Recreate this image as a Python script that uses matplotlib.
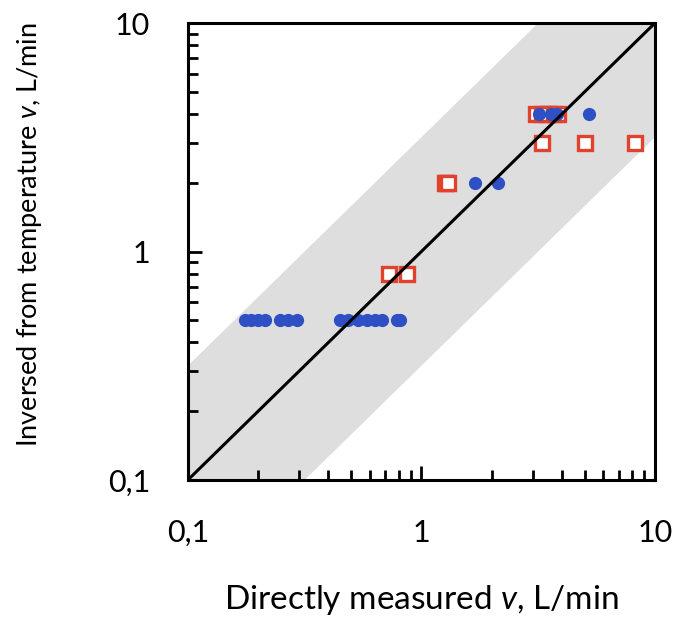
import numpy as np
import matplotlib.pyplot as plt
from matplotlib.ticker import FixedLocator, LogLocator, NullFormatter

plt.rcParams['font.family'] = ['Lato', 'DejaVu Sans']
plt.rcParams['mathtext.fontset'] = 'custom'
plt.rcParams['mathtext.it'] = 'Lato:italic'
plt.rcParams['mathtext.rm'] = 'Lato'

# measured vs. inversed flow rates, L/min
circ_x = [0.175, 0.187, 0.2, 0.214, 0.248, 0.269, 0.292,
          0.448, 0.486, 0.537, 0.583, 0.632, 0.676, 0.79, 0.81,
          1.69, 2.13,
          3.2, 3.6, 3.8, 5.2]
circ_y = [0.5] * 15 + [2.0] * 2 + [4.0] * 4

sq_x = [0.726, 0.864,
        1.26, 1.28, 1.30,
        3.1, 3.3, 3.5, 3.7, 3.85,
        3.27, 5.0, 8.2]
sq_y = [0.8] * 2 + [2.0] * 3 + [4.0] * 5 + [3.0] * 3

tick_vals = [0.1, 1, 10]
tick_text = ['0,1', '1', '10']

band = np.sqrt(10)
xs = np.logspace(-1, 1, 50)

fig = plt.figure(figsize=(6.78, 6.23), dpi=100)
ax = fig.add_axes([0.277, 0.2295, 0.689, 0.7335])

ax.fill_between(xs, xs / band, xs * band, color='#dedede', lw=0, zorder=1)
ax.plot(sq_x, sq_y, 's', ms=9.5, mfc='white', mec='#e0422c', mew=2.4, ls='none', zorder=3)
ax.plot(circ_x, circ_y, 'o', ms=8.5, color='#2f4fc4', ls='none', zorder=4)
ax.plot(xs, xs, color='black', lw=2.2, zorder=5)

ax.set_xscale('log')
ax.set_yscale('log')
ax.set_xlim(0.1, 10)
ax.set_ylim(0.1, 10)

for axis in (ax.xaxis, ax.yaxis):
    axis.set_major_locator(FixedLocator(tick_vals))
    axis.set_minor_locator(LogLocator(base=10, subs=np.arange(2, 10)))
    axis.set_minor_formatter(NullFormatter())
ax.set_xticklabels(tick_text)
ax.set_yticklabels(tick_text)

ax.tick_params(which='both', direction='in', width=2, labelsize=22, colors='black')
ax.tick_params(which='major', length=10)
ax.tick_params(which='minor', length=7)
ax.tick_params(axis='x', pad=28)
ax.tick_params(axis='y', pad=27)

for s in ax.spines.values():
    s.set_linewidth(2.2)

ax.set_xlabel(r'Directly measured $\mathit{v}$, L/min', fontsize=24, va='center')
ax.set_ylabel(r'Inversed from temperature $\mathit{v}$, L/min', fontsize=19.5, va='center')
ax.xaxis.set_label_coords(0.5, -0.262)
ax.yaxis.set_label_coords(-0.338, 0.538)

fig.savefig('out.png', dpi=100)
